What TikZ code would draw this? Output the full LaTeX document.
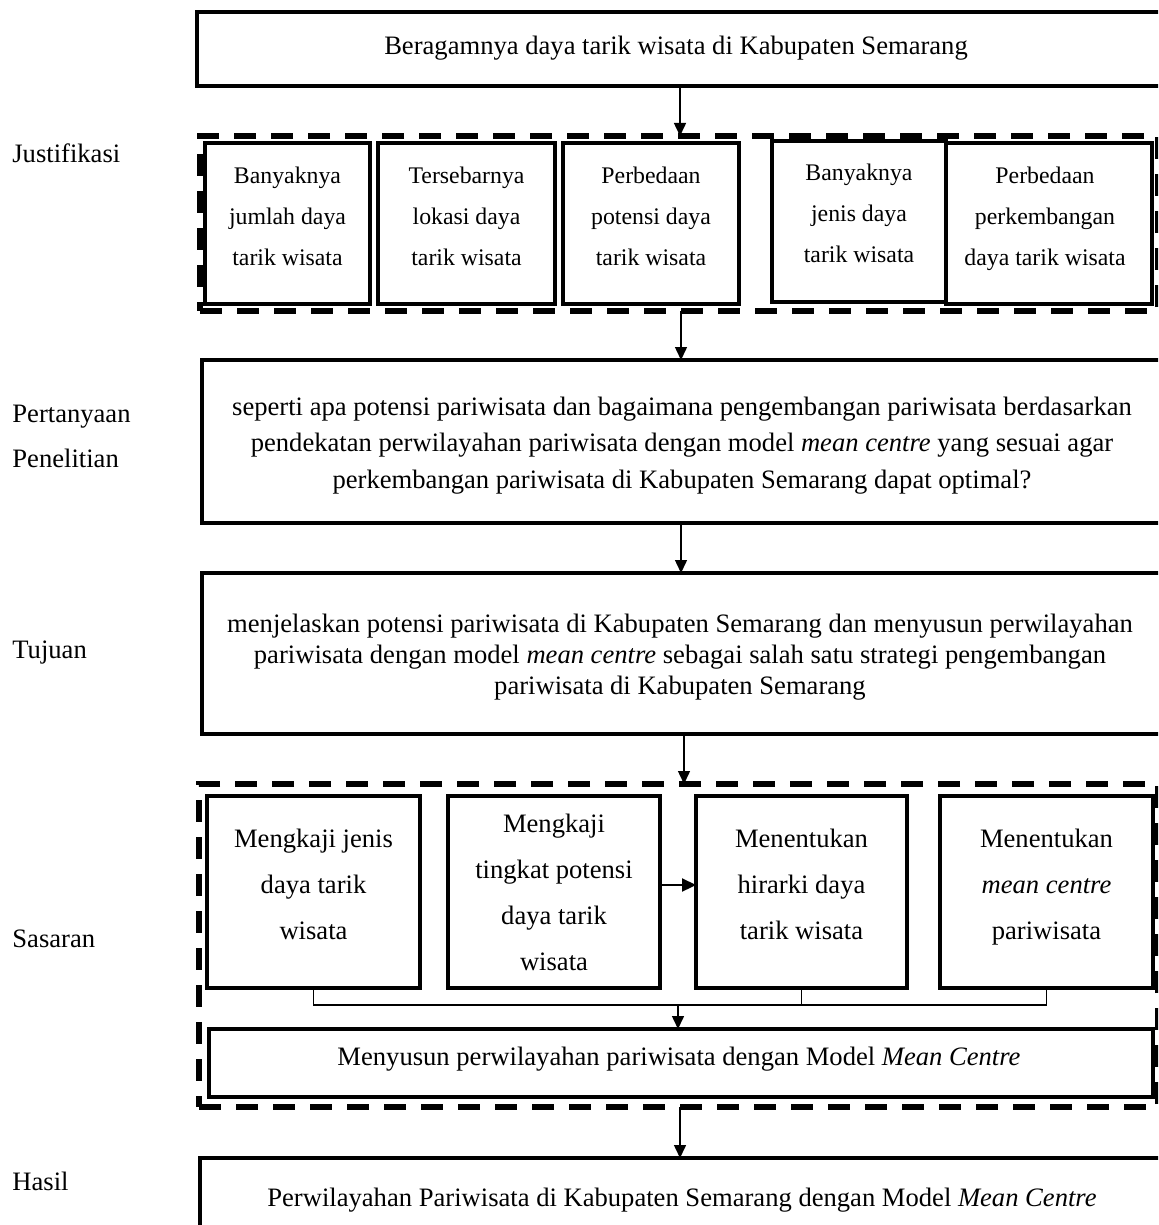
\documentclass[tikz,border=0pt]{standalone}
\usepackage{fontspec}
\setmainfont{Liberation Serif}
\usetikzlibrary{arrows.meta}
\newcommand\mybox[6]{\node[#6, minimum width={(#4-#2)*0.5pt}, minimum height={(#5-#3)*0.5pt}] (#1) at ({(#2+#4)/2},{(#3+#5)/2}) {};}
\newcommand\fmainx{\fontsize{13.3}{16}\selectfont}
\newcommand\fjusx{\fontsize{11.9}{20.5}\selectfont}
\newcommand\fpertx{\fontsize{13.3}{18.25}\selectfont}
\newcommand\ftujx{\fontsize{13.3}{15.5}\selectfont}
\newcommand\fsasx{\fontsize{13.3}{23}\selectfont}
\newcommand\flabx{\fontsize{13.3}{22.5}\selectfont}
\begin{document}
\begin{tikzpicture}[x=0.5pt,y=-0.5pt,
  box/.style={draw, line width=2.3pt, inner sep=0pt, outer sep=0pt},
  dbox/.style={draw, line width=2.6pt, dash pattern=on 11pt off 7.5pt, inner sep=0pt, outer sep=0pt},
  txt/.style={inner sep=0pt, align=center},
  lab/.style={inner sep=0pt, align=left, font=\flabx},
  arr/.style={line width=0.75pt, -{Triangle[length=6.5pt,width=6pt]}},
  thickarr/.style={line width=1.1pt, -{Triangle[length=7pt,width=6.5pt]}},
  conn/.style={line width=0.8pt}]
\useasboundingbox (0,0) rectangle (1158,1225);
\clip (0,0) rectangle (1158,1225);
\fill[white] (0,0) rectangle (1158,1225);

% coordinates for connector columns
\coordinate (a1) at (680,0);
\coordinate (a2) at (681,0);
\coordinate (a3) at (684,0);
\coordinate (a4) at (678,0);
\coordinate (ya) at (0,885);
\coordinate (bus) at (0,1005);

% left labels
\node[lab, anchor=base west] (lJ) at (12,163) {Justifikasi};
\node[lab, anchor=west] (lP) at (12,435.5) {\strut Pertanyaan\\\strut Penelitian};
\node[lab, anchor=base west] (lT) at (12,658) {Tujuan};
\node[lab, anchor=base west] (lS) at (12,947) {Sasaran};
\node[lab, anchor=base west] (lH) at (12,1190) {Hasil};

% top box
\mybox{top}{197}{12}{1175}{86}{box}
\node[txt, anchor=base, font=\fmainx] (topT) at (676,55) {Beragamnya daya tarik wisata di Kabupaten Semarang};

% Justifikasi
\mybox{dj}{200}{136}{1158}{311}{dbox}
\mybox{j1}{205}{143}{370}{304}{box}
\mybox{j2}{378}{143}{555}{304}{box}
\mybox{j3}{563}{143}{739}{304}{box}
\mybox{j4}{772}{141}{946}{302}{box}
\mybox{j5}{946}{143}{1152}{304}{box}
\node[txt, font=\fjusx] (j1t) at (287.5,216.5) {\strut Banyaknya\\\strut jumlah daya\\\strut tarik wisata};
\node[txt, font=\fjusx] (j2t) at (466.5,216.5) {\strut Tersebarnya\\\strut lokasi daya\\\strut tarik wisata};
\node[txt, font=\fjusx] (j3t) at (651,216.5) {\strut Perbedaan\\\strut potensi daya\\\strut tarik wisata};
\node[txt, font=\fjusx] (j4t) at (859,213.5) {\strut Banyaknya\\\strut jenis daya\\\strut tarik wisata};
\node[txt, font=\fjusx] (j5t) at (1045,216.5) {\strut Perbedaan\\\strut perkembangan\\\strut daya tarik wisata};

% Pertanyaan
\mybox{pq}{202}{360}{1175}{523}{box}
\node[txt, font=\fpertx] (pqt) at (682,444.2) {\strut seperti apa potensi pariwisata dan bagaimana pengembangan pariwisata berdasarkan\\\strut pendekatan perwilayahan pariwisata dengan model \textit{mean centre} yang sesuai agar\\\strut perkembangan pariwisata di Kabupaten Semarang dapat optimal?};

% Tujuan
\mybox{tj}{202}{573}{1175}{734}{box}
\node[txt, font=\ftujx] (tjt) at (680,657) {\strut menjelaskan potensi pariwisata di Kabupaten Semarang dan menyusun perwilayahan\\\strut pariwisata dengan model \textit{mean centre} sebagai salah satu strategi pengembangan\\\strut pariwisata di Kabupaten Semarang};

% Sasaran
\mybox{ds}{199}{784}{1158}{1107}{dbox}
\mybox{s1}{207}{796}{420}{988}{box}
\mybox{s2}{448}{796}{660}{988}{box}
\mybox{s3}{696}{796}{907}{988}{box}
\mybox{s4}{940}{796}{1153}{988}{box}
\node[txt, font=\fsasx] (s1t) at (313.5,884.5) {\strut Mengkaji jenis\\\strut daya tarik\\\strut wisata};
\node[txt, font=\fsasx] (s2t) at (554,892.5) {\strut Mengkaji\\\strut tingkat potensi\\\strut daya tarik\\\strut wisata};
\node[txt, font=\fsasx] (s3t) at (801.5,884.5) {\strut Menentukan\\\strut hirarki daya\\\strut tarik wisata};
\node[txt, font=\fsasx] (s4t) at (1046.5,884.5) {\strut Menentukan\\\strut \textit{mean centre}\\\strut pariwisata};

\mybox{mn}{209}{1029}{1153}{1097}{box}
\node[txt, anchor=base, font=\fmainx] (mnt) at (679,1065) {Menyusun perwilayahan pariwisata dengan Model \textit{Mean Centre}};

% Hasil
\mybox{hs}{200}{1158}{1175}{1240}{box}
\node[txt, anchor=base, font=\fmainx] (hst) at (682,1206) {Perwilayahan Pariwisata di Kabupaten Semarang dengan Model \textit{Mean Centre}};

% connectors
\draw[arr] (top.south -| a1) -- (dj.north -| a1);
\draw[arr] (dj.south -| a2) -- (pq.north -| a2);
\draw[arr] (pq.south -| a2) -- (tj.north -| a2);
\draw[arr] (tj.south -| a3) -- (ds.north -| a3);
\draw[thickarr] (s2.east |- ya) -- (s3.west |- ya);
\draw[conn] (s1.south) -- (s1.south |- bus) -- (s4.south |- bus) -- (s4.south);
\draw[conn] (s3.south) -- (s3.south |- bus);
\draw[arr] (bus -| a4) -- (mn.north -| a4);
\draw[arr] (ds.south -| a1) -- (hs.north -| a1);
\end{tikzpicture}
\end{document}
